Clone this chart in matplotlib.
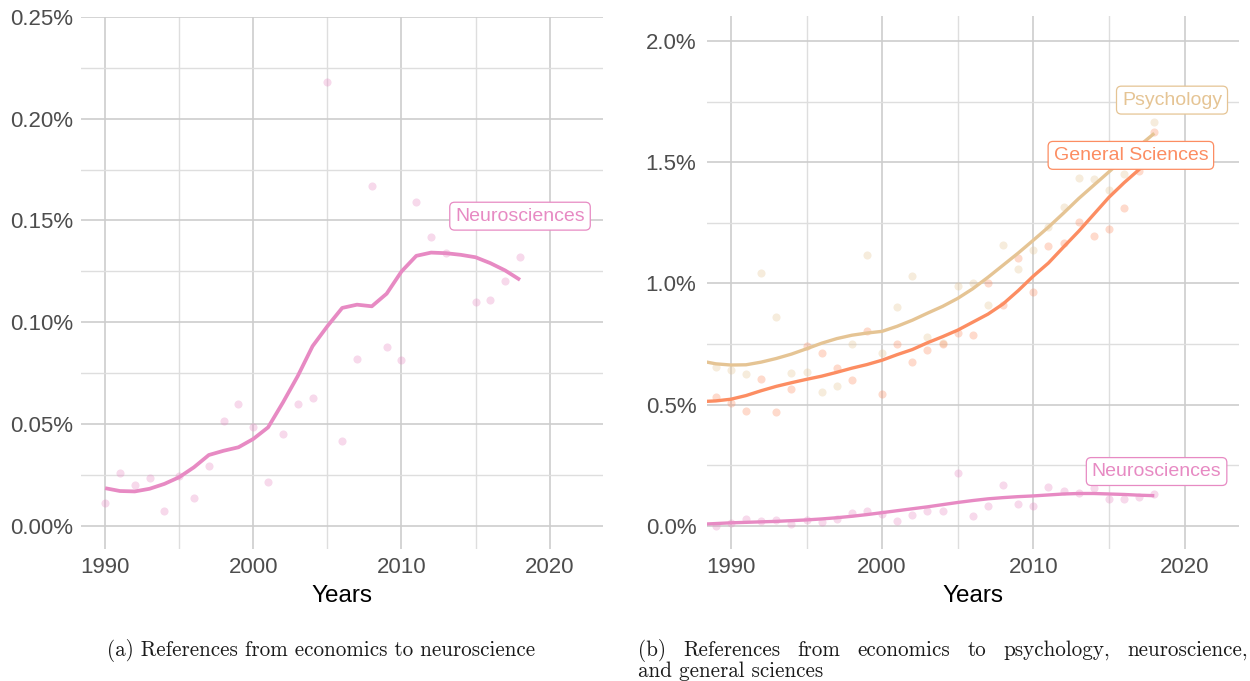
import matplotlib
matplotlib.use('Agg')
import matplotlib.pyplot as plt
from matplotlib.ticker import FixedLocator, MultipleLocator

plt.rcParams['font.family'] = ['Liberation Sans', 'DejaVu Sans']

W, H = 1250, 681

# yearly shares of references, in percent
years = list(range(1989, 2019))
neuro_pts = [0.000, 0.011, 0.026, 0.020, 0.0235, 0.007, 0.0245, 0.0137, 0.0293, 0.0513,
             0.060, 0.0484, 0.0215, 0.045, 0.0597, 0.0626, 0.218, 0.0416, 0.0817, 0.167,
             0.088, 0.0812, 0.159, 0.142, 0.134, 0.155, 0.110, 0.111, 0.120, 0.132]
psych_pts = [0.653, 0.642, 0.626, 1.041, 0.860, 0.631, 0.634, 0.552, 0.576, 0.750,
             1.117, 0.714, 0.901, 1.031, 0.780, 0.752, 0.990, 1.003, 0.910, 1.157,
             1.060, 1.137, 1.231, 1.313, 1.433, 1.430, 1.385, 1.451, 1.530, 1.664]
gensci_pts = [0.532, 0.508, 0.475, 0.604, 0.469, 0.563, 0.741, 0.714, 0.652, 0.601,
              0.803, 0.543, 0.748, 0.674, 0.725, 0.750, 0.794, 0.785, 1.003, 0.910,
              1.103, 0.965, 1.154, 1.165, 1.252, 1.196, 1.224, 1.309, 1.465, 1.623]

# smoothed trends
fit_years_a = list(range(1990, 2019))
neuro_fit_a = [0.0184, 0.0170, 0.0168, 0.0181, 0.0205, 0.0238, 0.0287, 0.0347, 0.0368, 0.0385,
               0.0426, 0.0483, 0.0605, 0.0735, 0.0882, 0.098, 0.107, 0.1086, 0.1078, 0.114,
               0.1249, 0.1326, 0.1342, 0.1339, 0.1331, 0.1319, 0.129, 0.1254, 0.1208]
fit_years_b = list(range(1988, 2019))
psych_fit = [0.680, 0.668, 0.663, 0.664, 0.675, 0.690, 0.708, 0.730, 0.753, 0.772, 0.786,
             0.795, 0.802, 0.823, 0.848, 0.877, 0.905, 0.938, 0.978, 1.025, 1.075,
             1.125, 1.178, 1.232, 1.290, 1.350, 1.405, 1.460, 1.515, 1.567, 1.619]
gensci_fit = [0.512, 0.515, 0.522, 0.537, 0.557, 0.575, 0.590, 0.604, 0.617, 0.633, 0.650,
              0.665, 0.683, 0.706, 0.727, 0.755, 0.780, 0.807, 0.840, 0.873, 0.915,
              0.970, 1.030, 1.084, 1.150, 1.215, 1.285, 1.355, 1.415, 1.470, 1.545]
neuro_fit_b = [0.006, 0.009, 0.012, 0.014, 0.016, 0.018, 0.021, 0.024, 0.028, 0.033, 0.039,
               0.046, 0.054, 0.062, 0.070, 0.078, 0.087, 0.096, 0.104, 0.111, 0.116,
               0.120, 0.123, 0.127, 0.131, 0.133, 0.133, 0.131, 0.129, 0.126, 0.124]

x_ticks = [1990, 2000, 2010, 2020]
y_ticks_a = [0.0, 0.05, 0.10, 0.15, 0.20, 0.25]
y_labels_a = ['0.00%', '0.05%', '0.10%', '0.15%', '0.20%', '0.25%']
y_ticks_b = [0.0, 0.5, 1.0, 1.5, 2.0]
y_labels_b = ['0.0%', '0.5%', '1.0%', '1.5%', '2.0%']

caption_a = '(a) References from economics to neuroscience'
caption_b1 = '(b) References from economics to psychology, neuroscience,'
caption_b2 = 'and general sciences'

PINK = '#e78ac3'
BEIGE = '#e5c494'
ORANGE = '#fc8d62'
TICK_COL = '#4d4d4d'


def style_axes(ax, ylim, yticks, ylabels, yminor, ypad):
    ax.set_xlim(1988.4, 2023.6)
    ax.set_ylim(*ylim)
    for s in ax.spines.values():
        s.set_visible(False)
    ax.xaxis.set_major_locator(FixedLocator(x_ticks))
    ax.xaxis.set_minor_locator(MultipleLocator(5))
    ax.set_yticks(yticks)
    ax.set_yticklabels(ylabels)
    ax.yaxis.set_minor_locator(MultipleLocator(yminor))
    ax.grid(which='major', color='#cdcdcd', lw=1.2)
    ax.grid(which='minor', color='#dedede', lw=1.0)
    ax.set_axisbelow(True)
    ax.tick_params(which='both', length=0, labelsize=16, labelcolor=TICK_COL)
    ax.tick_params(axis='y', pad=ypad)
    ax.tick_params(axis='x', pad=5.5)
    ax.set_xlabel('Years', fontsize=17.5, color='black', labelpad=5)


def tag(ax, x, y, text, color):
    ax.text(x, y, text, color=color, fontsize=14, ha='center', va='center', zorder=5,
            bbox=dict(boxstyle='round,pad=0.28,rounding_size=0.25', fc='white', ec=color, lw=0.9))


fig = plt.figure(figsize=(W / 100, H / 100), dpi=100)
ax_a = fig.add_axes([81.4 / W, 1 - 549 / H, 521.6 / W, 532 / H])
ax_b = fig.add_axes([706.7 / W, 1 - 549 / H, 532.3 / W, 533 / H])

# (a) neuroscience only
ax_a.scatter(years[1:], neuro_pts[1:], s=34, color=PINK, alpha=0.32, lw=0, zorder=2)
ax_a.plot(fit_years_a, neuro_fit_a, color=PINK, lw=2.7, zorder=3,
          solid_capstyle='butt', solid_joinstyle='round')
style_axes(ax_a, (-0.0115, 0.25), y_ticks_a, y_labels_a, 0.025, 6)
tag(ax_a, 2018.0, 0.1521, 'Neurosciences', PINK)

# (b) three fields
for pts, fit, col in [(psych_pts, psych_fit, BEIGE), (gensci_pts, gensci_fit, ORANGE),
                      (neuro_pts, neuro_fit_b, PINK)]:
    ax_b.scatter(years, pts, s=34, color=col, alpha=0.32, lw=0, zorder=2)
    ax_b.plot(fit_years_b, fit, color=col, lw=2.4, zorder=3,
              solid_capstyle='butt', solid_joinstyle='round')
style_axes(ax_b, (-0.096, 2.103), y_ticks_b, y_labels_b, 0.25, 7.5)
tag(ax_b, 2019.17, 1.756, 'Psychology', BEIGE)
tag(ax_b, 2016.45, 1.528, 'General Sciences', ORANGE)
tag(ax_b, 2018.15, 0.2236, 'Neurosciences', PINK)

# captions in a Computer Modern face
cap_font = dict(family=['cmr10', 'DejaVu Serif'], color='#1a1a1a', va='baseline', ha='left')
renderer = fig.canvas.get_renderer()
probe = fig.text(0, 0, caption_a, fontsize=10, **cap_font)
cap_size = 10 * 428 / probe.get_window_extent(renderer).width
probe.remove()

fig.text(107 / W, 1 - 656 / H, caption_a, fontsize=cap_size, **cap_font)

# first line of (b) is justified between x=638 and x=1248
words = caption_b1.split()
texts = [fig.text(0, 1 - 656 / H, w, fontsize=cap_size, **cap_font) for w in words]
widths = [t.get_window_extent(renderer).width for t in texts]
gap = (1248 - 638 - sum(widths)) / (len(words) - 1)
xpos = 638
for t, w in zip(texts, widths):
    t.set_x(xpos / W)
    xpos += w + gap
fig.text(638 / W, 1 - 677 / H, caption_b2, fontsize=cap_size, **cap_font)

fig.savefig('out.png', dpi=100)
